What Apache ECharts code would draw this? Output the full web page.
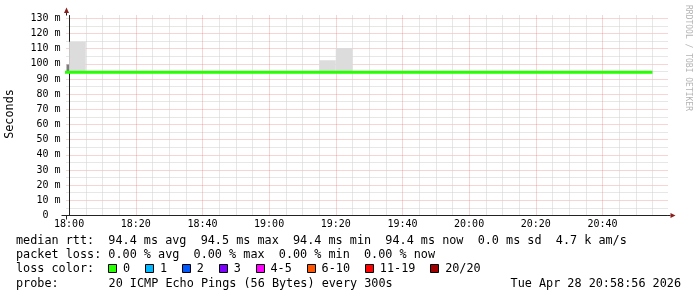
<!DOCTYPE html>
<html><head><meta charset="utf-8">
<script src="https://cdn.jsdelivr.net/npm/echarts@6/dist/echarts.min.js"></script>
<style>html,body{margin:0;padding:0;background:#fff}#c{width:697px;height:297px}</style>
</head><body><div id="c"></div>
<script>
// ---- data ----
const viewStart = '17:59:13';
const viewEnd = '20:59:13';
const yMin = 0;
const yMax = 131.8;
const xTickLabels = ['18:00','18:20','18:40','19:00','19:20','19:40','20:00','20:20','20:40'];
const yTickLabels = ['0  ','10 m','20 m','30 m','40 m','50 m','60 m','70 m','80 m','90 m','100 m','110 m','120 m','130 m'];
const medianTimes = ['17:55','18:00','18:05','18:10','18:15','18:20','18:25','18:30','18:35','18:40','18:45','18:50','18:55',
  '19:00','19:05','19:10','19:15','19:20','19:25','19:30','19:35','19:40','19:45','19:50','19:55',
  '20:00','20:05','20:10','20:15','20:20','20:25','20:30','20:35','20:40','20:45','20:50','20:55'];
const medianRtt = [94.4,94.4,94.4,94.4,94.4,94.4,94.4,94.4,94.4,94.4,94.4,94.4,94.4,
  94.4,94.4,94.4,94.4,94.4,94.4,94.4,94.4,94.4,94.4,94.4,94.4,
  94.4,94.4,94.4,94.4,94.4,94.4,94.4,94.4,94.4,94.4,94.4,94.4];
const smokeStart = ['18:00','19:15','19:20'];
const smokeEnd   = ['18:05','19:20','19:25'];
const smokeLow   = [94.4, 94.4, 94.4];
const smokeHigh  = [114.5, 102.3, 110.3];
const denseStart = ['17:55'];
const denseEnd   = ['18:00'];
const denseLow   = [95.2];
const denseHigh  = [99.5];
const rttStats = ['94.4 ms avg','94.5 ms max','94.4 ms min','94.4 ms now','0.0 ms sd','4.7 k am/s'];
const lossStats = ['0.00 % avg','0.00 % max','0.00 % min','0.00 % now'];
const lossLabels = ['0','1','2','3','4-5','6-10','11-19','20/20'];
const lossColors = ['#26ff00','#00b8ff','#0059ff','#7e00ff','#ff00ff','#ff5500','#ff0000','#a10000'];
const probeText = '20 ICMP Echo Pings (56 Bytes) every 300s';
const stampText = 'Tue Apr 28 20:58:56 2026';
const yTitle = 'Seconds';
const watermark = 'RRDTOOL / TOBI OETIKER';

// ---- helpers ----
function toMin(s){ const p=s.split(':').map(Number); return p[0]*60+p[1]+(p[2]||0)/60-18*60; }
const MONO = 'DejaVu Sans Mono';
const MAJOR = 'rgba(225,90,90,0.5)';
const MINOR = '#cfcfcf';

const GL = 66.5, GT = 15.5, GW = 601, GH = 200;
const xMinA = toMin(viewStart), xMaxA = toMin(viewEnd);
const pxPerMin = 600/(xMaxA-xMinA);
const glB = GL + (0-xMinA)*pxPerMin;
const gwB = (xMaxA-0)*pxPerMin + 1;
const xMaxView = xMaxA + 1/pxPerMin;

const yCount = Math.floor(yMax/5)+2;
const yColors = []; for(let i=0;i<yCount;i++){ yColors.push(i===0||i===yCount-1?'rgba(0,0,0,0)':(i%2===0?MAJOR:MINOR)); }
const xCount = Math.floor(xMaxView/5)+2;
const xColors = []; for(let i=0;i<xCount;i++){ xColors.push(i===xCount-1?'rgba(0,0,0,0)':(i%4===0?MAJOR:MINOR)); }

function boxSeries(starts, ends, lows, highs, fill, z){
  return {
    type:'custom', xAxisIndex:0, yAxisIndex:0, z:z, silent:true,
    encode:{x:[0,1], y:[2,3]},
    data: starts.map((s,i)=>[toMin(s), toMin(ends[i]), lows[i], highs[i]]),
    renderItem(params, api){
      const p0 = api.coord([api.value(0), api.value(3)]);
      const p1 = api.coord([api.value(1), api.value(2)]);
      const cs = params.coordSys;
      const r = echarts.graphic.clipRectByRect(
        {x:p0[0], y:p0[1], width:p1[0]-p0[0], height:p1[1]-p0[1]},
        {x:cs.x, y:cs.y, width:cs.width, height:cs.height});
      return r ? {type:'rect', shape:r, style:{fill:fill}} : null;
    }
  };
}

const chart = echarts.init(document.getElementById('c'), null, {renderer:'canvas'});
const cw = 7.12, tx = 16, FS = 11.8;
const graphics = [];
function txt(x,y,t,opt){ graphics.push(Object.assign({type:'text', x:x, y:y, silent:true,
  style:Object.assign({text:t, fontFamily:MONO, fontSize:FS, fill:'#000', textAlign:'left', textVerticalAlign:'middle'}, opt&&opt.style||{})}, opt&&opt.el||{})); }
txt(tx, 241, 'median rtt:  ' + rttStats.join('  '));
txt(tx, 255, 'packet loss: ' + lossStats.join('  '));
txt(tx, 269, 'loss color:');
let bx = tx + 13*cw - 0.5;
lossLabels.forEach((l,i)=>{
  graphics.push({type:'rect', silent:true, shape:{x:Math.round(bx)+0.5, y:264.5, width:8, height:8}, style:{fill:lossColors[i], stroke:'#000', lineWidth:1}});
  txt(bx+15, 269, l);
  bx += 15.5 + l.length*cw + 2*cw;
});
txt(tx, 284, 'probe:');
txt(tx+13*cw, 284, probeText);
txt(681, 284, stampText, {style:{textAlign:'right'}});
txt(10, 114, yTitle, {style:{textAlign:'center'}, el:{rotation:Math.PI/2}});
txt(688, 58, watermark, {style:{textAlign:'center', fontSize:8, fill:'#b4b4b4'}, el:{rotation:-Math.PI/2}});
// axis overhangs and arrows
const AX = '#222', AR = '#8b1d1d';
graphics.push({type:'line', silent:true, shape:{x1:GL, y1:GT+GH, x2:GL, y2:GT+GH+4}, style:{stroke:AX, lineWidth:1}});
graphics.push({type:'line', silent:true, shape:{x1:GL, y1:GT, x2:GL, y2:GT-3}, style:{stroke:AX, lineWidth:1}});
graphics.push({type:'line', silent:true, shape:{x1:GL-5, y1:GT+GH, x2:GL, y2:GT+GH}, style:{stroke:AX, lineWidth:1}});
graphics.push({type:'line', silent:true, shape:{x1:GL+GW, y1:GT+GH, x2:GL+GW+3, y2:GT+GH}, style:{stroke:AX, lineWidth:1}});
graphics.push({type:'polygon', silent:true, shape:{points:[[GL,7.5],[GL-2.5,13],[GL+2.5,13]]}, style:{fill:AR}});
graphics.push({type:'polygon', silent:true, shape:{points:[[GL+GW+8,GT+GH],[GL+GW+3,GT+GH-2.5],[GL+GW+3,GT+GH+2.5]]}, style:{fill:AR}});

chart.setOption({
  animation:false,
  backgroundColor:'#fff',
  grid:[
    {left:GL, top:GT, width:GW, height:GH},
    {left:glB, top:GT, width:gwB, height:GH}
  ],
  xAxis:[
    {type:'value', gridIndex:0, min:xMinA, max:xMaxView,
     axisLine:{show:true, lineStyle:{color:AX, width:1}}, axisTick:{show:false}, axisLabel:{show:false}, splitLine:{show:false}},
    {type:'value', gridIndex:1, min:0, max:xMaxView, interval:5,
     axisLine:{show:false}, axisTick:{show:false},
     axisLabel:{show:true, margin:4, fontFamily:MONO, fontSize:10, color:'#000', showMaxLabel:false,
       formatter:(v)=>{ const i=Math.round(v/20); return (Math.abs(v-i*20)<1e-6 && i<xTickLabels.length)? xTickLabels[i] : ''; }},
     splitLine:{show:true, showMaxLine:false, lineStyle:{color:xColors, width:1, type:[1,1]}}}
  ],
  yAxis:[
    {type:'value', gridIndex:0, min:yMin, max:yMax, interval:5,
     axisLine:{show:true, lineStyle:{color:AX, width:1}}, axisTick:{show:false},
     axisLabel:{show:true, margin:6, fontFamily:MONO, fontSize:10, color:'#000', showMaxLabel:false,
       formatter:(v)=>{ const i=Math.round(v/10); return (Math.abs(v-i*10)<1e-6 && i<yTickLabels.length)? yTickLabels[i] : ''; }},
     splitLine:{show:true, showMaxLine:false, lineStyle:{color:yColors, width:1, type:[1,1]}}},
    {type:'value', gridIndex:1, min:yMin, max:yMax, show:false, splitLine:{show:false}}
  ],
  series:[
    boxSeries(denseStart, denseEnd, denseLow, denseHigh, '#7d7d7d', 2),
    boxSeries(smokeStart, smokeEnd, smokeLow, smokeHigh, '#dcdcdc', 2),
    {type:'line', xAxisIndex:0, yAxisIndex:0, z:3, silent:true, showSymbol:false, symbol:'none', clip:true,
     data: medianTimes.map((t,i)=>[toMin(t), medianRtt[i]]),
     lineStyle:{color:'#26ff00', width:3}}
  ],
  graphic: graphics
});
</script></body></html>
